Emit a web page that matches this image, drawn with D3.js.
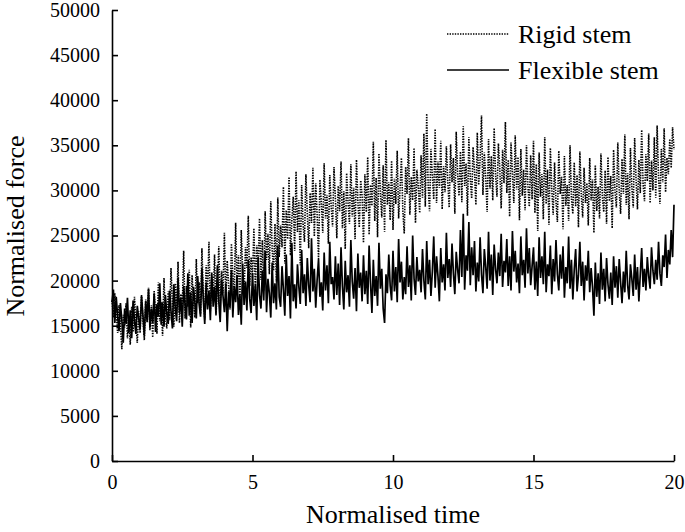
<!DOCTYPE html>
<html>
<head>
<meta charset="utf-8">
<script src="https://cdn.jsdelivr.net/npm/d3@7"></script>
<style>
	body { margin: 0; background: #fff; }
</style>
</head>
<body>
<div id="chart"></div>
<script>
// sampled every 0.05 normalised time unit, 0 .. 20
const timeStep = 0.05

const rigidStem = [
	17800, 15900, 18600, 16400, 14200, 17300, 15100, 12400, 16200, 14800, 17500, 13600, 15900, 12900, 17100, 14300, 18200, 15400, 13100, 16600,
	14200, 18400, 15700, 13400, 17900, 16100, 19200, 14500, 17300, 13700, 18900, 16300, 14100, 19800, 15500, 17600, 13900, 20300, 16000, 14700,
	18800, 15600, 21400, 17200, 14900, 19700, 16400, 22100, 15300, 18500, 16900, 23300, 15800, 19400, 17100, 21200, 14800, 20600, 17700, 15900,
	22400, 17500, 19800, 16300, 23600, 18200, 15700, 21700, 18800, 24300, 16600, 20500, 17900, 22900, 16100, 19300, 23800, 17400, 21100, 18600,
	25300, 17800, 22200, 19500, 16800, 24100, 20600, 18300, 26400, 19100, 22800, 17600, 25600, 20900, 18700, 23700, 21400, 27200, 19400, 22600,
	20300, 25800, 19000, 23900, 21600, 26900, 20100, 24500, 18900, 27700, 22300, 25200, 20700, 28800, 23400, 21100, 26300, 19800, 29200, 22600,
	26100, 23700, 30400, 21900, 27800, 24600, 31500, 22800, 26700, 29300, 23300, 32100, 25400, 28900, 21700, 30600, 26200, 24300, 31800, 27500,
	23600, 29700, 26400, 32500, 24900, 30800, 27300, 22400, 31200, 28600, 25300, 33000, 26900, 29500, 24100, 31700, 28200, 26000, 32600, 29100,
	24700, 30500, 27700, 33200, 25800, 29900, 23500, 31900, 28700, 26300, 32900, 27100, 30300, 24600, 33400, 28800, 25900, 31100, 29400, 24200,
	31800, 27600, 33700, 25100, 30600, 28300, 35400, 26600, 31400, 24800, 34100, 29700, 27000, 32800, 25400, 35600, 28400, 30900, 26700, 33300,
	25600, 31300, 28500, 34400, 26900, 30100, 33600, 27800, 25200, 32600, 29600, 35800, 27300, 31500, 28900, 34700, 26400, 32300, 30400, 27500,
	33900, 29200, 36300, 28200, 38500, 30700, 27700, 34600, 31600, 29000, 36800, 28600, 33200, 30300, 35500, 27900, 32700, 29800, 34900, 31000,
	28100, 35100, 30900, 33600, 27400, 36500, 31800, 29400, 34300, 28700, 37100, 30500, 33000, 27200, 35900, 31300, 29100, 34800, 32100, 28400,
	36400, 30600, 33500, 38300, 29500, 34200, 31400, 27600, 35700, 30200, 33800, 28900, 36900, 31700, 29300, 35200, 32400, 28000, 34500, 30800,
	37600, 29700, 33400, 27100, 35300, 31900, 28600, 36100, 30100, 33700, 26700, 34600, 29400, 32300, 27800, 35000, 30600, 28200, 33900, 29000,
	35500, 27500, 32900, 25500, 34200, 29300, 31800, 26800, 35900, 28500, 32300, 26200, 34700, 30200, 27300, 33100, 28800, 26500, 34400, 29600,
	31500, 25700, 33800, 28300, 30600, 26600, 35000, 29100, 27400, 33100, 28200, 31700, 25900, 34300, 29500, 27000, 32500, 28600, 30800, 26100,
	33600, 28900, 31200, 25300, 32800, 27700, 30400, 26900, 34100, 29300, 27600, 32200, 26300, 33700, 28800, 31600, 25800, 34500, 29900, 28100,
	35300, 30000, 27400, 33500, 29600, 36200, 28400, 31900, 26800, 34700, 30300, 28100, 35800, 31200, 27900, 33400, 29700, 36700, 30700, 28800,
	34000, 31000, 36300, 28600, 33300, 30000, 35900, 29200, 37200, 31500, 28500, 34600, 30900, 36900, 29800, 33600, 31800, 35700, 32500, 37000,
	34500
]

const flexibleStem = [
	17600, 19000, 15300, 18200, 16100, 14400, 17500, 15600, 13100, 16900, 15200, 18100, 14200, 16700, 13600, 17800, 15500, 14100, 17200, 15800,
	14600, 18300, 16200, 13900, 17700, 15400, 19100, 14800, 16900, 15300, 18600, 14300, 17400, 16000, 19700, 15100, 17600, 14900, 18400, 16300,
	15200, 18900, 16600, 14700, 19600, 17000, 15500, 20300, 16400, 18100, 14900, 19400, 17300, 15700, 20800, 16100, 18700, 15300, 19300, 17600,
	15800, 20500, 17400, 16000, 21400, 17900, 15200, 19800, 16800, 18900, 15600, 20900, 17100, 19300, 16300, 21700, 17700, 15400, 20100, 18300,
	16500, 19700, 14400, 18800, 17100, 21200, 15900, 19400, 17600, 20600, 16200, 18500, 15100, 21900, 17300, 19900, 16700, 22300, 18000, 16400,
	20800, 17200, 19500, 15600, 22600, 18400, 16900, 21100, 17800, 23300, 16500, 20200, 18600, 15900, 22000, 17500, 19700, 16800, 23900, 18200,
	17100, 21600, 19000, 16100, 22900, 18300, 20500, 15800, 24200, 17700, 19600, 16900, 21800, 19300, 17400, 23400, 18600, 20700, 17200, 22500,
	19500, 17600, 24700, 18800, 21300, 17000, 20100, 22400, 18200, 19800, 16700, 23100, 18900, 21700, 17500, 24300, 19600, 20400, 17900, 22700,
	18400, 21900, 17300, 23700, 19400, 16800, 22200, 18700, 20600, 17100, 24500, 19900, 18000, 21400, 16600, 23000, 19200, 20900, 17700, 22800,
	18500, 21100, 17400, 23900, 19700, 16400, 22300, 18300, 20500, 17200, 24200, 19100, 21300, 16900, 15300, 20700, 18600, 22900, 19400, 17800,
	23300, 18800, 21500, 17600, 24600, 19800, 22100, 17900, 20400, 18500, 23800, 19300, 21700, 17800, 25000, 20200, 18400, 22600, 19900, 21200,
	18700, 23500, 20000, 17900, 24400, 19600, 22300, 18300, 21000, 24900, 19200, 22700, 20500, 17700, 23600, 19800, 21800, 18900, 25300, 20300,
	22400, 19300, 24100, 20800, 18500, 23200, 21200, 19700, 25600, 20400, 27400, 19000, 22800, 21100, 26500, 19500, 23700, 20600, 24400, 18800,
	22000, 19900, 24800, 20700, 18600, 23500, 21500, 19100, 25400, 20000, 22900, 18400, 24000, 21300, 19700, 23100, 20500, 25200, 19300, 22200,
	20900, 24600, 19400, 22700, 18900, 25500, 21000, 23300, 19800, 21900, 18600, 24900, 20600, 22300, 19200, 25800, 20800, 23600, 19500, 21600,
	23700, 19000, 22100, 18300, 24800, 20300, 22700, 19600, 25400, 18700, 21800, 20500, 23900, 18500, 22400, 19900, 24500, 20700, 18900, 22900,
	20200, 23800, 18100, 21500, 19700, 24900, 19100, 22300, 17900, 21200, 23500, 18800, 20600, 24300, 19400, 22100, 17800, 21700, 20000, 23300,
	18700, 21400, 19300, 16100, 22000, 18200, 20800, 17400, 23100, 19000, 21300, 17700, 22500, 19600, 18000, 20900, 17300, 22700, 19200, 21600,
	18100, 22400, 19800, 17500, 21000, 18700, 23300, 19500, 17900, 21800, 20200, 18300, 22900, 19000, 21500, 17700, 20700, 23600, 19300, 21300,
	18900, 22600, 20500, 19100, 23700, 21100, 19600, 22300, 20100, 24300, 20800, 19400, 22800, 21500, 25100, 20300, 23400, 21800, 25600, 22600,
	28400
]

const xTicks = [0, 5, 10, 15, 20]
const yTicks = [0, 5000, 10000, 15000, 20000, 25000, 30000, 35000, 40000, 45000, 50000]

const legendItems = [
	{ name: 'Rigid stem', dash: '1.4,1.2' },
	{ name: 'Flexible stem', dash: null }
]

const serif = 'Liberation Serif, serif'

const svg = d3.select('#chart')
	.append('svg')
	.attr('width', 685)
	.attr('height', 532)
	.attr('font-family', serif)

const x = d3.scaleLinear()
	.domain([0, 20])
	.range([112, 674])

const y = d3.scaleLinear()
	.domain([0, 50000])
	.range([461, 10])

const line = d3.line()
	.x((d, i) => x(i * timeStep))
	.y(d => y(d))

// rigid first, flexible drawn on top
svg.append('path')
	.datum(rigidStem)
	.attr('fill', 'none')
	.attr('stroke', '#000')
	.attr('stroke-width', 1.6)
	.attr('stroke-dasharray', '1.4,1.2')
	.attr('d', line)

svg.append('path')
	.datum(flexibleStem)
	.attr('fill', 'none')
	.attr('stroke', '#000')
	.attr('stroke-width', 1.7)
	.attr('d', line)

// axes, ticks pointing inward
const xAxis = svg.append('g')
	.attr('transform', 'translate(0,461)')
	.call(d3.axisBottom(x).tickValues(xTicks).tickSize(-6).tickPadding(12).tickFormat(d3.format('d')))

const yAxis = svg.append('g')
	.attr('transform', 'translate(112,0)')
	.call(d3.axisLeft(y).tickValues(yTicks).tickSize(-6).tickPadding(12).tickFormat(d3.format('d')))

;[xAxis, yAxis].forEach(g => {
	g.attr('font-family', serif).attr('font-size', 20)
	g.select('.domain').attr('stroke', '#000').attr('stroke-width', 1.6)
	g.selectAll('.tick line').attr('stroke', '#000').attr('stroke-width', 1.6)
	g.selectAll('.tick text').attr('fill', '#000')
})
// no outer ticks, axes end at the range
xAxis.select('.domain').attr('d', 'M112.5,0.5H674.5')
yAxis.select('.domain').attr('d', 'M0.5,10.5V461.5')
xAxis.selectAll('.tick text').attr('y', 14).attr('dy', '0.71em')
yAxis.selectAll('.tick text').attr('x', -12)

svg.append('text')
	.attr('x', 393)
	.attr('y', 523)
	.attr('text-anchor', 'middle')
	.attr('font-size', 26)
	.text('Normalised time')

svg.append('text')
	.attr('transform', 'translate(24,226) rotate(-90)')
	.attr('text-anchor', 'middle')
	.attr('font-size', 26)
	.text('Normalised force')

const legend = svg.append('g')
	.selectAll('g')
	.data(legendItems)
	.enter()
	.append('g')
	.attr('transform', (d, i) => `translate(447,${34 + i * 36})`)

legend.append('line')
	.attr('x1', 0)
	.attr('x2', 62)
	.attr('stroke', '#000')
	.attr('stroke-width', 1.5)
	.attr('stroke-dasharray', d => d.dash)

legend.append('text')
	.attr('x', 71)
	.attr('y', 9)
	.attr('font-size', 26)
	.text(d => d.name)
</script>
</body>
</html>
